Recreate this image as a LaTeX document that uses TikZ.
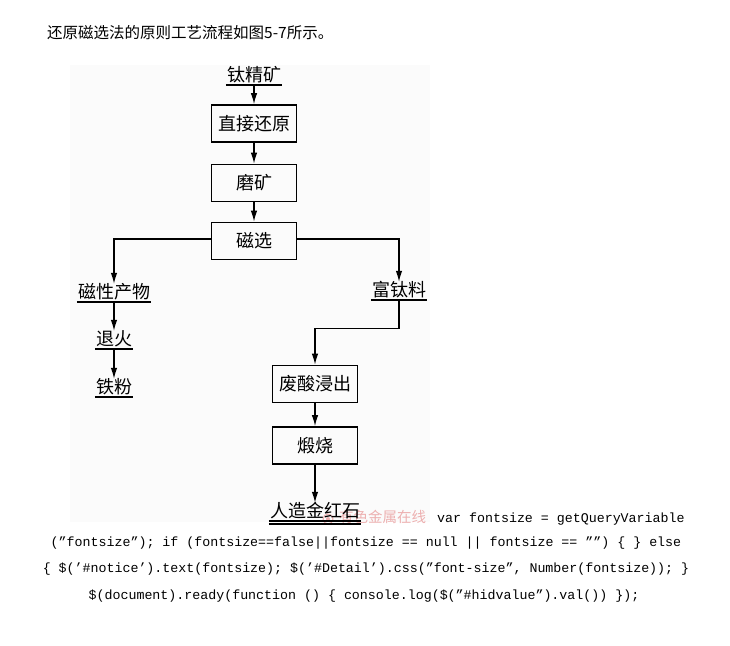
\documentclass[tikz,border=0pt]{standalone}
\usepackage{fontspec}
\newfontfamily\cjk{Noto Sans CJK SC}
\newfontfamily\codefont{Liberation Mono}[Ligatures=TeX]
\usetikzlibrary{arrows.meta}
\definecolor{bgpale}{HTML}{FBFBFB}
\definecolor{wmred}{HTML}{EDB0B0}
\tikzset{
  box/.style={draw, line width=1.8pt, minimum width=85pt, minimum height=37pt, inner sep=0pt,
    font=\cjk\fontsize{18}{18}\selectfont},
  lab/.style={inner xsep=1pt, inner ysep=0pt, text height=14.5pt, text depth=3.5pt,
    font=\cjk\fontsize{18}{18}\selectfont},
  ul/.style={line width=1.6pt},
  arr/.style={line width=1.2pt, -{Latex[length=11pt,width=6.5pt]}},
  code/.style={inner sep=0pt, font=\codefont\fontsize{13.3}{14}\selectfont},
}
\begin{document}
\begin{tikzpicture}[x=1pt,y=-1pt]
\useasboundingbox (0,0) rectangle (730,645);
\fill[white] (0,0) rectangle (730,645);
\fill[bgpale] (70,65) rectangle (430,522);

% title
\node[anchor=west, inner sep=0pt, font=\cjk\fontsize{15.5}{16}\selectfont] (title) at (47,33)
  {还原磁选法的原则工艺流程如图5-7所示。};

% watermark (behind)
\draw[wmred, line width=1pt] (328,519) circle (5pt);
\fill[wmred] (328,519) circle (2pt);
\node[anchor=west, inner sep=0pt, text=wmred, font=\cjk\fontsize{14.5}{15}\selectfont] (wm) at (339,517) {有色金属在线};

% labels
\node[lab] (ore) at (254,76) {钛精矿};
\node[lab] (mag) at (114,293) {磁性产物};
\node[lab] (ann) at (114,340) {退火};
\node[lab] (iron) at (114,388) {铁粉};
\node[lab] (ti) at (399,291) {富钛料};
\node[lab] (rut) at (315,512) {人造金红石};

\foreach \n in {ore,mag,ann,iron,ti,rut}
  \draw[ul] (\n.south west) -- (\n.south east);
\draw[ul] ([yshift=-3pt]rut.south west) -- ([yshift=-3pt]rut.south east);

% boxes
\node[box] (b1) at (254,123.5) {直接还原};
\node[box] (b2) at (254,183) {磨矿};
\node[box] (b3) at (254,241) {磁选};
\node[box] (b4) at (315,384) {废酸浸出};
\node[box] (b5) at (315,445.5) {煅烧};

% connectors
\draw[arr] (ore.south) -- (b1.north);
\draw[arr] (b1.south) -- (b2.north);
\draw[arr] (b2.south) -- (b3.north);
\draw[arr] ([yshift=2pt]b3.west) -| (mag.north);
\draw[arr] ([yshift=2pt]b3.east) -| (ti.north);
\draw[arr] (mag.south) -- (ann.north);
\draw[arr] (ann.south) -- (iron.north);
\draw[arr] (ti.south) -- ++(0,28) -| (b4.north);
\draw[arr] (b4.south) -- (b5.north);
\draw[arr] (b5.south) -- (rut.north);

% code text
\node[code, anchor=west] (c1) at (437,519) {var fontsize = getQueryVariable};
\node[code] (c2) at (366,543) {("fontsize"); if (fontsize==false||fontsize == null || fontsize == "") \{ \} else};
\node[code] (c3) at (366,569) {\{ \$('\#notice').text(fontsize); \$('\#Detail').css("font-size", Number(fontsize)); \}};
\node[code] (c4) at (364,596) {\$(document).ready(function () \{ console.log(\$("\#hidvalue").val()) \});};
\end{tikzpicture}
\end{document}
